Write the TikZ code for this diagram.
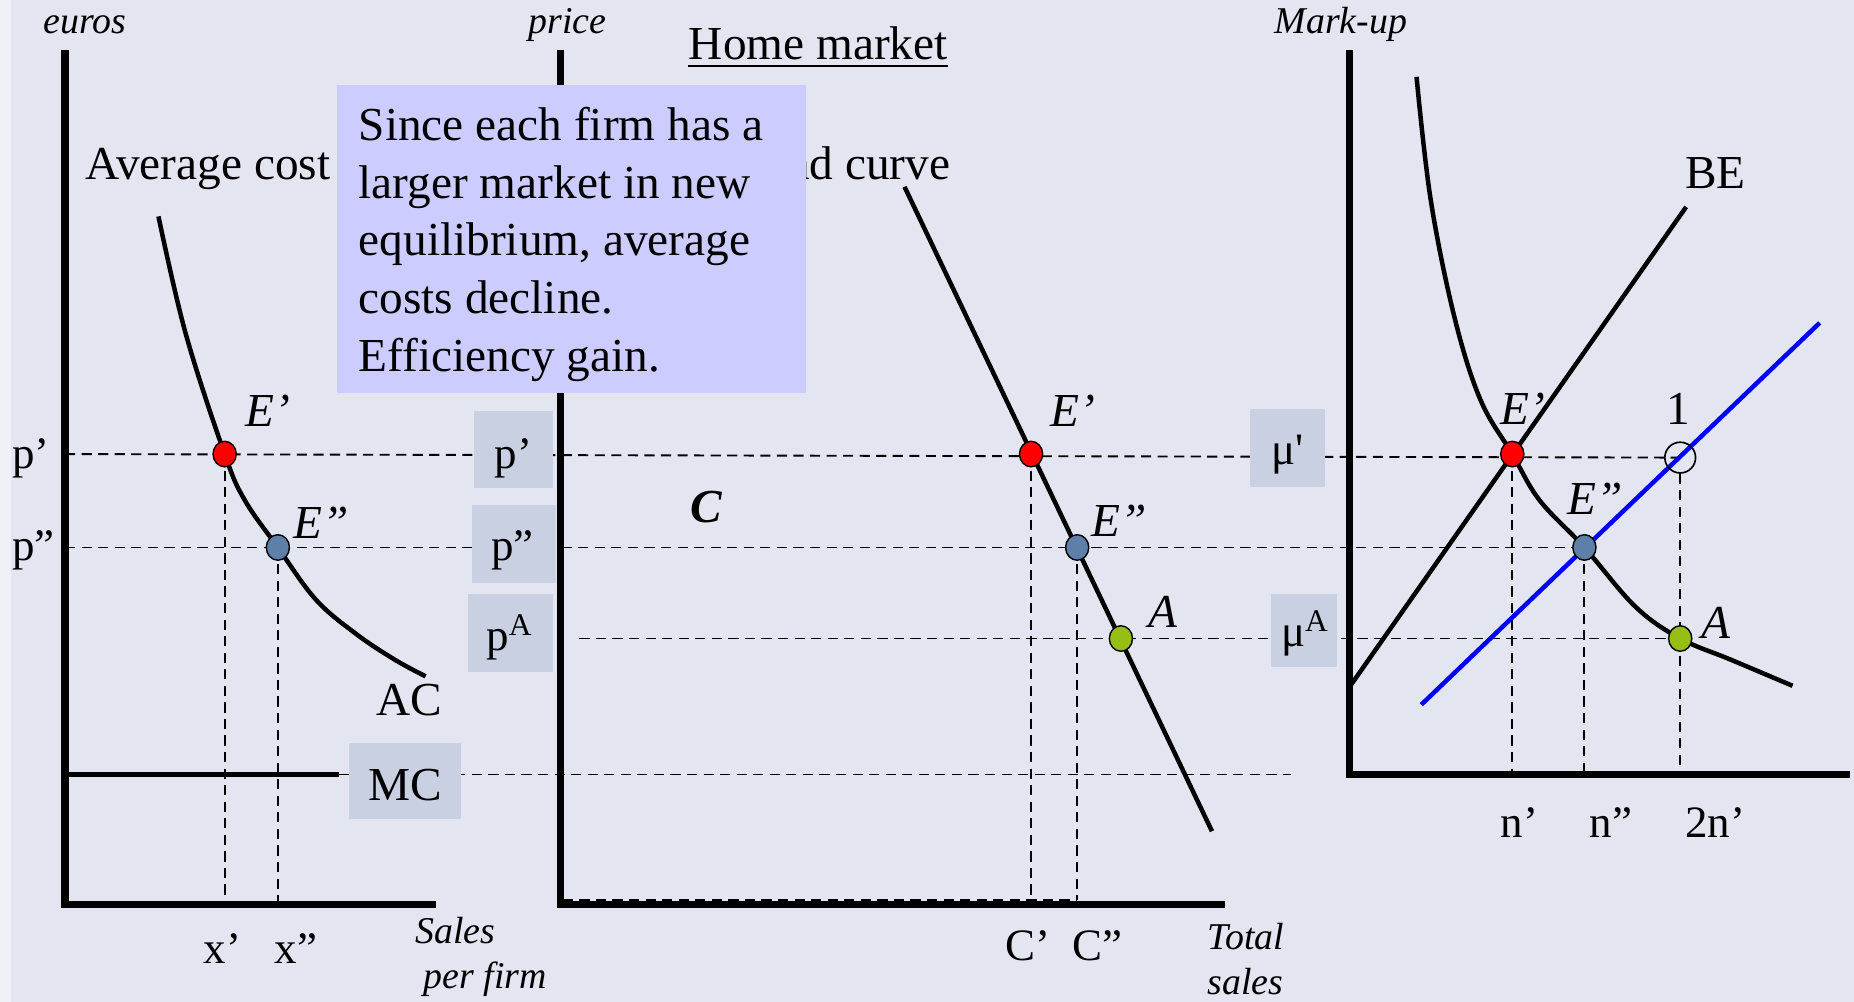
\documentclass[tikz,border=0pt]{standalone}
\usepackage{fontspec}
\setmainfont{Liberation Serif}
\usetikzlibrary{shapes.geometric}
\definecolor{bg}{RGB}{227,229,240}
\definecolor{edgestrip}{RGB}{240,241,247}
\definecolor{lblfill}{RGB}{201,208,225}
\definecolor{notefill}{RGB}{204,204,255}
\definecolor{dotred}{RGB}{255,0,0}
\definecolor{dotblue}{RGB}{93,127,168}
\definecolor{dotgreen}{RGB}{150,190,20}
\definecolor{pureblue}{RGB}{0,0,255}
\begin{document}
\begin{tikzpicture}[x=0.5pt,y=-0.5pt,
  axisline/.style={line width=3pt},
  curveline/.style={line width=1.9pt},
  guide/.style={line width=0.8pt, dash pattern=on 4.3pt off 2.7pt},
  dotnode/.style={ellipse, draw=black, line width=0.6pt, minimum width=9.8pt, minimum height=10.8pt, inner sep=0pt},
  lblbox/.style={fill=lblfill, inner sep=0pt},
  lab/.style={font=\fontsize{20}{24}\selectfont, inner sep=0pt},
  ticklab/.style={font=\fontsize{19}{23}\selectfont, inner sep=0pt},
  ilab/.style={font=\fontsize{16}{19}\selectfont\itshape, inner sep=0pt},
  elab/.style={font=\fontsize{20}{24}\selectfont\itshape, inner sep=0pt}]
\useasboundingbox (0,0) rectangle (1568,847);
\fill[bg] (0,0) rectangle (1568,847);
\fill[edgestrip] (0,0) rectangle (9,847);

% ---------- coordinates ----------
\coordinate (tL) at (55,42);
\coordinate (oL) at (55,765);
\coordinate (xL) at (369,765);
\coordinate (tM) at (474,42);
\coordinate (oM) at (474,765);
\coordinate (xM) at (1036,765);
\coordinate (tR) at (1141,42);
\coordinate (oR) at (1141,655);
\coordinate (xR) at (1565,655);

\coordinate (cEL1) at (190,384);
\coordinate (cEL2) at (235,463);
\coordinate (cEM1) at (872,384);
\coordinate (cEM2) at (911,463);
\coordinate (cAM) at (948,540);
\coordinate (cER1) at (1279,384);
\coordinate (cER2) at (1340,463);
\coordinate (cAR) at (1421,540);
\coordinate (cOne) at (1421,387);

\coordinate (pAstart) at (490,540);
\coordinate (mc0) at (55,655);
\coordinate (mc1) at (287,655);
\coordinate (mc2) at (1092,655);
\coordinate (cl0) at (476,761);

\path (cOne) node[circle, minimum size=13pt, inner sep=0pt] (one) {};

% ---------- guide lines ----------
\draw[guide] (cEL1 -| oL) -- (one.center);
\draw[guide] (cEL2 -| oL) -- (cER2);
\draw[guide] (pAstart) -- (cAR);
\draw[guide] (mc1) -- (mc2);
\draw[guide] (cEL1) -- (cEL1 |- oL);
\draw[guide] (cEL2) -- (cEL2 |- oL);
\draw[guide] (cEM1) -- (cEM1 |- cl0);
\draw[guide] (cEM2) -- (cEM2 |- cl0);
\draw[guide] (cl0) -- (cEM2 |- cl0);
\draw[guide] (cER1) -- (cER1 |- oR);
\draw[guide] (cER2) -- (cER2 |- oR);
\draw[guide] (one.south) -- (cOne |- oR);

% ---------- curves ----------
\draw[curveline] plot[smooth, tension=0.6] coordinates {(134,183) (157,282) (190,384) (207,423) (235,463) (267,507) (301,536) (334,558) (360,572)};
\draw[curveline] (mc0) -- (mc1);
\draw[curveline] (765,158) -- (1025,703);
\draw[curveline] plot[smooth, tension=0.6] coordinates {(1198,65) (1210,169) (1230,268) (1252,338) (1279,384) (1302,423) (1340,463) (1383,513) (1421,540) (1464,558) (1516,580)};
\draw[curveline] (1142,580) -- (1426,175);
\draw[curveline, pureblue] (1202,596) -- (1539,273);
\draw[line width=0.7pt] (one.center) circle[radius=13];

% ---------- axes ----------
\draw[axisline] (tL) -- (oL) -- (xL);
\draw[axisline] (tM) -- (oM) -- (xM);
\draw[axisline] (tR) -- (oR) -- (xR);

% ---------- dots ----------
\node[dotnode, fill=dotred] (EL1) at (cEL1) {};
\node[dotnode, fill=dotblue] (EL2) at (cEL2) {};
\node[dotnode, fill=dotred] (EM1) at (cEM1) {};
\node[dotnode, fill=dotblue] (EM2) at (cEM2) {};
\node[dotnode, fill=dotgreen] (AM) at (cAM) {};
\node[dotnode, fill=dotred] (ER1) at (cER1) {};
\node[dotnode, fill=dotblue] (ER2) at (cER2) {};
\node[dotnode, fill=dotgreen] (AR) at (cAR) {};

% ---------- label boxes ----------
\node[lblbox, minimum width=33.5pt, minimum height=32.5pt] (bp1) at (434.5,380.5) {};
\node[lblbox, minimum width=35.5pt, minimum height=33pt] (bp2) at (434.5,460) {};
\node[lblbox, minimum width=36pt, minimum height=33pt] (bpA) at (432,535) {};
\node[lblbox, minimum width=47.5pt, minimum height=32.5pt] (bMC) at (342.5,660.5) {};
\node[lblbox, minimum width=32pt, minimum height=33pt] (bmu1) at (1089,379) {};
\node[lblbox, minimum width=28pt, minimum height=31pt] (bmuA) at (1103,533) {};

% ---------- texts ----------
\node[ilab, anchor=base] (teuros) at (72,28) {euros};
\node[ilab, anchor=base] (tprice) at (480,28) {price};
\node[ilab, anchor=base] (tmark) at (1134,28) {Mark-up};
\node[lab, anchor=base] (thome) at (692,50) {Home market};
\draw[line width=0.9pt] ([yshift=-3pt]thome.base west) -- ([yshift=-3pt]thome.base east);

\node[lab, anchor=base west] (tavg) at (72,152) {Average cost};
\node[lab, anchor=base east] (tdem) at (804,152) {Demand curve};

\node[elab, anchor=base west] (lEL1) at (207,361) {E’};
\node[elab, anchor=base west] (lEL2) at (248,455) {E”};
\node[ticklab, anchor=base west] (lp1L) at (10,396) {p’};
\node[ticklab, anchor=base west] (lp2L) at (10,474) {p”};
\node[lab, anchor=base west] (lAC) at (318,605) {AC};
\node[lab, anchor=base] (lMC) at (342.5,677) {MC};
\node[ticklab, anchor=base west] (lx1) at (172,815) {x’};
\node[ticklab, anchor=base west] (lx2) at (232,815) {x”};
\node[ilab, anchor=base west] (lsales) at (351,798) {Sales};
\node[ilab, anchor=base west] (lperfirm) at (358,836) {per firm};

\node[ticklab, anchor=base west] (lp1) at (418,396) {p’};
\node[ticklab, anchor=base west] (lp2) at (415,474) {p”};
\node[ticklab, anchor=base west] (lpA) at (411,550) {p\textsuperscript{A}};

\node[font=\fontsize{20}{24}\selectfont\bfseries\itshape, inner sep=0pt, anchor=base] (lC) at (597,442) {C};
\node[elab, anchor=base west] (lEM1) at (888,361) {E’};
\node[elab, anchor=base west] (lEM2) at (923,454) {E”};
\node[elab, anchor=base west] (lAM) at (971,531) {A};
\node[ticklab, anchor=base west] (lC1) at (850,812) {C’};
\node[ticklab, anchor=base west] (lC2) at (907,812) {C”};
\node[ilab, anchor=base west] (ltotal) at (1021,803) {Total};
\node[ilab, anchor=base west] (lsales2) at (1021,841) {sales};

\node[lab, anchor=base west] (lBE) at (1425,159) {BE};
\node[elab, anchor=base west] (lER1) at (1269,359) {E’};
\node[lab, anchor=base west] (lone) at (1409,359) {1};
\node[elab, anchor=base west] (lER2) at (1325,435) {E”};
\node[elab, anchor=base west] (lAR) at (1439,540) {A};
\node[ticklab, anchor=base west] (lmu1) at (1075,393) {μ\textquotesingle};
\node[ticklab, anchor=base west] (lmuA) at (1083,547) {μ\textsuperscript{A}};
\node[ticklab, anchor=base west] (ln1) at (1269,708) {n’};
\node[ticklab, anchor=base west] (ln2) at (1344,708) {n”};
\node[ticklab, anchor=base west] (ln3) at (1425,708) {2n’};

% ---------- note box ----------
\node[fill=notefill, inner sep=0pt, minimum width=198.3pt, minimum height=130pt] (note) at (483.3,202) {};
\node[lab, font=\fontsize{20}{24.35}\selectfont, align=left, anchor=north west] (notetext) at (303,90.5) {Since each firm has a\\larger market in new\\equilibrium, average\\costs decline.\\Efficiency gain.};
\end{tikzpicture}
\end{document}
